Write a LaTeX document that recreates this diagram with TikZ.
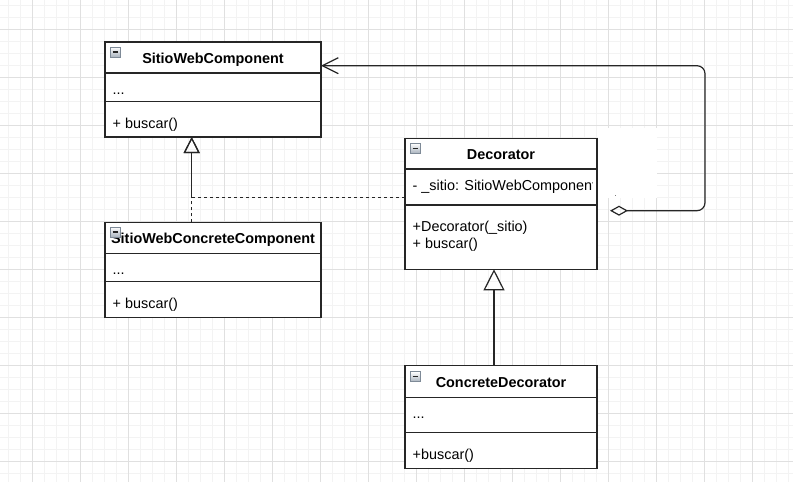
\documentclass[tikz,border=0pt]{standalone}
\usepackage{fontspec}
\setmainfont{Liberation Sans}
\usetikzlibrary{arrows.meta}

\definecolor{gridminor}{HTML}{F3F3F3}
\definecolor{gridmajor}{HTML}{E0E0E0}
\definecolor{umlline}{HTML}{262626}
\definecolor{iconedge}{HTML}{7E8A97}
\definecolor{iconlow}{HTML}{A9B3BE}

\tikzset{
  classbox/.style={draw=umlline, line width=1.3pt, fill=white, anchor=north west,
                   inner sep=0pt, outer sep=0pt},
  classtitle/.style={font=\fontsize{14.4}{17}\selectfont\bfseries, inner sep=0pt, anchor=base},
  member/.style={font=\fontsize{14.4}{17}\selectfont, inner sep=0pt, anchor=base west},
  compline/.style={draw=umlline, line width=1.3pt},
  edge/.style={draw=umlline, line width=1.2pt},
  realize/.style={edge, line width=1.4pt, dash pattern=on 3pt off 3pt,
                  -{Triangle[open, length=16pt, width=16pt, line width=1.2pt]}},
  inherit/.style={edge, -{Triangle[open, length=21pt, width=21pt]}},
  aggr/.style={edge, rounded corners=8pt,
               {Diamond[open, length=18pt, width=10pt]}-{Straight Barb[length=16pt, width=16pt]}},
  umlicon/.pic={
    \draw[iconedge, line width=0.8pt, top color=white, bottom color=iconlow]
      (0,0) rectangle (10,10);
    \draw[umlline, line width=1.4pt] (2.5,5) -- (7.5,5);
  }
}

\begin{document}
\begin{tikzpicture}[x=1pt, y=-1pt]
  \useasboundingbox (0,0) rectangle (793,482);

  % drawing grid
  \begin{scope}
    \clip (0,0) rectangle (793,482);
    \fill[white] (0,0) rectangle (793,482);
    \foreach \gx in {8.3,20.3,...,793} \draw[gridminor, line width=1pt] (\gx,0) -- (\gx,482);
    \foreach \gy in {5.3,17.3,...,482} \draw[gridminor, line width=1pt] (0,\gy) -- (793,\gy);
    \foreach \gx in {32.3,80.3,...,793} \draw[gridmajor, line width=1pt] (\gx,0) -- (\gx,482);
    \foreach \gy in {29.3,77.3,...,482} \draw[gridmajor, line width=1pt] (0,\gy) -- (793,\gy);
  \end{scope}

  % blank label area beside the aggregation end
  \fill[white] (598,128) rectangle (657,198);
  \node[font=\fontsize{7}{8}\selectfont, inner sep=0pt] (aggLabel) at (615.7,196.5) {.};

  % SitioWebComponent
  \node[classbox, minimum width=216pt, minimum height=95pt] (swc) at (105,42) {};
  \draw[compline] ([yshift=-31pt]swc.north west) -- ([yshift=-31pt]swc.north east);
  \draw[compline] ([yshift=-59.7pt]swc.north west) -- ([yshift=-59.7pt]swc.north east);
  \node[classtitle] (swcName) at (213,63) {SitioWebComponent};
  \node[member] (swcAttr) at (112.5,94) {...};
  \node[member] (swcOp) at (112.5,128) {+ buscar()};
  \pic at (110,47) {umlicon};

  % Decorator
  \node[classbox, minimum width=192pt, minimum height=131pt] (dec) at (405,138.3) {};
  \draw[compline] ([yshift=-30.7pt]dec.north west) -- ([yshift=-30.7pt]dec.north east);
  \draw[compline] ([yshift=-66.7pt]dec.north west) -- ([yshift=-66.7pt]dec.north east);
  \node[classtitle] (decName) at (501,159) {Decorator};
  \begin{scope}
    \clip (405,172) rectangle (592,203);
    \node[member] (decAttr) at (412.5,190) {- \_sitio: SitioWebComponent};
  \end{scope}
  \node[member] (decCtor) at (412.5,231) {+Decorator(\_sitio)};
  \node[member] (decOp) at (412.5,248) {+ buscar()};
  \pic at (410,143.3) {umlicon};

  % SitioWebConcreteComponent
  \node[classbox, minimum width=216pt, minimum height=95pt] (sccc) at (105,222.3) {};
  \draw[compline] ([yshift=-31pt]sccc.north west) -- ([yshift=-31pt]sccc.north east);
  \draw[compline] ([yshift=-59.4pt]sccc.north west) -- ([yshift=-59.4pt]sccc.north east);
  \node[classtitle] (scccName) at (213,243) {SitioWebConcreteComponent};
  \node[member] (scccAttr) at (112.5,274.3) {...};
  \node[member] (scccOp) at (112.5,308.3) {+ buscar()};
  \pic at (110,227) {umlicon};

  % ConcreteDecorator
  \node[classbox, minimum width=192pt, minimum height=102.6pt] (cd) at (405,365.7) {};
  \draw[compline] ([yshift=-31.6pt]cd.north west) -- ([yshift=-31.6pt]cd.north east);
  \draw[compline] ([yshift=-67pt]cd.north west) -- ([yshift=-67pt]cd.north east);
  \node[classtitle] (cdName) at (501,387.7) {ConcreteDecorator};
  \node[member] (cdAttr) at (412.5,418.7) {...};
  \node[member] (cdOp) at (412.5,459.3) {+buscar()};
  \pic at (410,371.7) {umlicon};

  % realizations of SitioWebComponent
  \draw[realize] ([xshift=-21.3pt]sccc.north) -- ([xshift=-21.3pt]swc.south);
  \draw[realize] ([yshift=6.5pt]dec.west) -| ([xshift=-21.3pt]swc.south);

  % ConcreteDecorator extends Decorator
  \draw[inherit] ([xshift=-7pt]cd.north) -- ([xshift=-7pt]dec.south);

  % Decorator aggregates a SitioWebComponent
  \coordinate (aggFree) at (610,210.7);
  \draw[aggr] (aggFree) -- (705,210.7) -- (705,65.7) -- ([yshift=23.8pt]swc.east);
\end{tikzpicture}
\end{document}
